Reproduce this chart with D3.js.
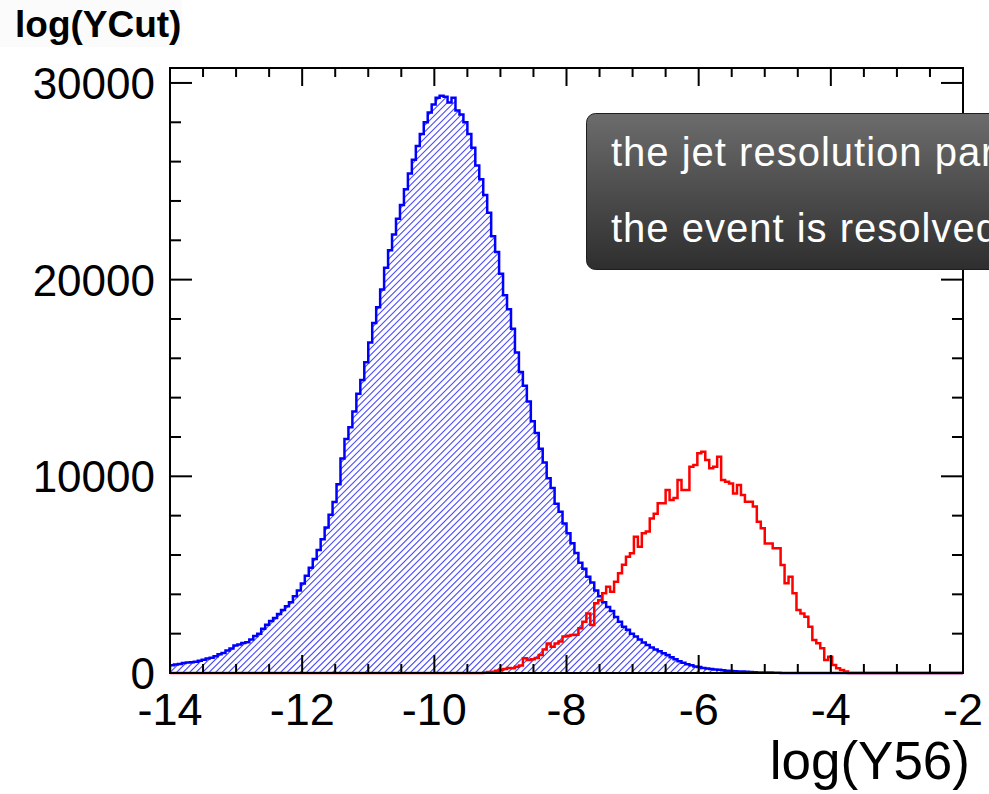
<!DOCTYPE html>
<html>
<head>
<meta charset="utf-8">
<script src="https://cdn.jsdelivr.net/npm/d3@7"></script>
<style>
  html, body { margin: 0; padding: 0; background: #fff; }
  svg { display: block; }
  text { font-family: "Liberation Sans", Arial, Helvetica, sans-serif; }
</style>
</head>
<body>
<svg id="chart" width="989" height="794"></svg>
<script>
// Histogram binning: 200 bins of width 0.06 over log(Y56) in [-14, -2]
const xMin = -14, xMax = -2, nBins = 200;

// Events with log(YCut) below log(Y56) — blue, hatched
const blueCounts = [
  400, 430, 460, 510, 540, 550, 570, 620, 680, 740,
  780, 850, 950, 1020, 1150, 1250, 1400, 1450, 1520, 1560,
  1700, 1880, 2000, 2250, 2450, 2650, 2800, 3000, 3200, 3400,
  3600, 3900, 4200, 4550, 4950, 5350, 5800, 6250, 6800, 7400,
  8050, 8700, 9600, 10900, 11900, 12500, 13300, 14200, 14900, 15800,
  16800, 17800, 18600, 19500, 20600, 21500, 22300, 23100, 23800, 24600,
  25400, 26100, 26800, 27400, 28000, 28500, 28900, 29250, 29350, 29300,
  29000, 29250, 28600, 28400, 28000, 27400, 26700, 25800, 25100, 24300,
  23400, 22200, 21400, 20300, 19200, 18500, 17500, 16300, 15300, 14600,
  13800, 12800, 12200, 11400, 10700, 9900, 9400, 8600, 8200, 7600,
  7100, 6600, 6100, 5600, 5300, 4900, 4600, 4200, 3900, 3600,
  3350, 3150, 2850, 2600, 2350, 2200, 2000, 1850, 1700, 1550,
  1420, 1300, 1200, 1100, 1000, 920, 800, 700, 600, 520,
  450, 400, 330, 300, 260, 230, 200, 180, 160, 140,
  120, 100, 90, 80, 70, 60, 50, 40, 30, 30,
  20, 20, 10, 10, 0, 0, 0, 0, 0, 0,
  0, 0, 0, 0, 0, 0, 0, 0, 0, 0,
  0, 0, 0, 0, 0, 0, 0, 0, 0, 0,
  0, 0, 0, 0, 0, 0, 0, 0, 0, 0,
  0, 0, 0, 0, 0, 0, 0, 0, 0, 0
];

// Events resolved at this step — red outline
const redCounts = [
  0, 0, 0, 0, 0, 0, 0, 0, 0, 0,
  0, 0, 0, 0, 0, 0, 0, 0, 0, 0,
  0, 0, 0, 0, 0, 0, 0, 0, 0, 0,
  0, 0, 0, 0, 0, 0, 0, 0, 0, 0,
  0, 0, 0, 0, 0, 0, 0, 0, 0, 0,
  0, 0, 0, 0, 0, 0, 0, 0, 0, 0,
  0, 0, 0, 0, 0, 0, 0, 0, 0, 0,
  0, 0, 0, 0, 0, 0, 0, 0, 0, 30,
  50, 60, 120, 160, 200, 250, 240, 320, 380, 750,
  660, 700, 760, 920, 1200, 1500, 1340, 1500, 1600, 1850,
  1900, 1930, 1950, 2270, 2600, 3030, 2440, 3540, 3700, 4050,
  4390, 4130, 4640, 5070, 5500, 5910, 6090, 6930, 6420, 7100,
  7200, 7860, 8100, 8630, 8630, 9300, 8800, 8900, 9810, 9300,
  9300, 10490, 10570, 11170, 11250, 10830, 10410, 10490, 11000, 9810,
  9730, 9640, 9130, 9560, 9050, 8710, 8710, 8460, 7690, 7360,
  6590, 6590, 6340, 6340, 5490, 4560, 4900, 4050, 3200, 3030,
  2860, 2350, 1680, 1510, 1260, 660, 830, 410, 240, 150,
  70, 0, 0, 0, 0, 0, 0, 0, 0, 0,
  0, 0, 0, 0, 0, 0, 0, 0, 0, 0,
  0, 0, 0, 0, 0, 0, 0, 0, 0, 0
];

const yMax = 30760;
const xMajorTicks = [-14, -12, -10, -8, -6, -4, -2];
const xTickLabels = ["-14", "-12", "-10", "-8", "-6", "-4", "-2"];
const yMajorTicks = [0, 10000, 20000, 30000];
const yTickLabels = ["0", "10000", "20000", "30000"];
const xTitle = "log(Y56)";
const yTitle = "log(YCut)";
const boxLines = ["the jet resolution parameter", "the event is resolved"];

const svg = d3.select("#chart");
const frame = { left: 170, right: 963, top: 68, bottom: 673 };

const x = d3.scaleLinear().domain([xMin, xMax]).range([frame.left, frame.right]);
const y = d3.scaleLinear().domain([0, yMax]).range([frame.bottom, frame.top]);
const binW = (xMax - xMin) / nBins;

const defs = svg.append("defs");

const grad = defs.append("linearGradient")
  .attr("id", "boxGrad").attr("x1", 0).attr("y1", 0).attr("x2", 0).attr("y2", 1);
grad.append("stop").attr("offset", "0%").attr("stop-color", "#6c6c6c");
grad.append("stop").attr("offset", "100%").attr("stop-color", "#2e2e2e");

defs.append("clipPath").attr("id", "frameClip")
  .append("rect")
  .attr("x", frame.left).attr("y", frame.top - 2)
  .attr("width", frame.right - frame.left).attr("height", frame.bottom - frame.top + 4);

// Step outline points for a histogram, closed to the baseline at both ends
function stepPoints(counts) {
  const pts = [[x(xMin), y(0)]];
  counts.forEach((c, i) => {
    const x0 = xMin + i * binW, x1 = x0 + binW;
    pts.push([x(x0), y(c)]);
    pts.push([x(x1), y(c)]);
  });
  pts.push([x(xMax), y(0)]);
  return pts;
}

const line = d3.line();
const g = svg.append("g").attr("clip-path", "url(#frameClip)");

const bluePts = stepPoints(blueCounts);

// Hatching: diagonal lines clipped to the blue histogram's area
defs.append("clipPath").attr("id", "blueArea")
  .append("path").attr("d", line(bluePts) + "Z");
const hatchStep = 6.5;
const hatch = g.append("g").attr("clip-path", "url(#blueArea)");
const span = frame.bottom - frame.top;
hatch.selectAll("line")
  .data(d3.range(frame.left - span, frame.right + 10, hatchStep))
  .join("line")
  .attr("x1", d => d).attr("y1", frame.bottom)
  .attr("x2", d => d + span).attr("y2", frame.top)
  .attr("stroke", "#4848ff")
  .attr("stroke-width", 1.1);

g.append("path")
  .attr("d", line(bluePts))
  .attr("fill", "none")
  .attr("stroke", "#0000ff")
  .attr("stroke-width", 2.5);

g.append("path")
  .attr("d", line(stepPoints(redCounts)))
  .attr("fill", "none")
  .attr("stroke", "#ff0000")
  .attr("stroke-width", 2.5);

// Frame and ticks on all four sides
const axes = svg.append("g").attr("stroke", "#000").attr("stroke-width", 2);
axes.append("rect")
  .attr("x", frame.left).attr("y", frame.top)
  .attr("width", frame.right - frame.left).attr("height", frame.bottom - frame.top)
  .attr("fill", "none");

const xMinor = d3.range(xMin, xMax + 0.001, 0.5);
xMinor.forEach(v => {
  const major = Math.abs(v / 2 - Math.round(v / 2)) < 1e-6;
  const len = major ? 18 : 9;
  axes.append("line").attr("x1", x(v)).attr("x2", x(v))
    .attr("y1", frame.bottom).attr("y2", frame.bottom - len);
  axes.append("line").attr("x1", x(v)).attr("x2", x(v))
    .attr("y1", frame.top).attr("y2", frame.top + len);
});

const yMinor = d3.range(0, yMax, 2000);
yMinor.forEach(v => {
  const major = v % 10000 === 0;
  const len = major ? 22 : 11;
  axes.append("line").attr("y1", y(v)).attr("y2", y(v))
    .attr("x1", frame.left).attr("x2", frame.left + len);
  axes.append("line").attr("y1", y(v)).attr("y2", y(v))
    .attr("x1", frame.right).attr("x2", frame.right - len);
});

// Tick labels
svg.append("g").selectAll("text")
  .data(xMajorTicks)
  .join("text")
  .attr("x", d => x(d))
  .attr("y", 725)
  .attr("text-anchor", "middle")
  .attr("font-size", 45)
  .attr("fill", "#000")
  .text((d, i) => xTickLabels[i]);

svg.append("g").selectAll("text")
  .data(yMajorTicks)
  .join("text")
  .attr("x", 155)
  .attr("y", d => y(d) + 16)
  .attr("text-anchor", "end")
  .attr("font-size", 44)
  .attr("fill", "#000")
  .text((d, i) => yTickLabels[i]);

// Axis titles
svg.append("rect").attr("x", 0).attr("y", 0).attr("width", 182).attr("height", 47)
  .attr("fill", "#fbfbfb");
svg.append("text")
  .attr("x", 15).attr("y", 37)
  .attr("font-size", 37).attr("font-weight", "bold")
  .attr("fill", "#000")
  .text(yTitle);

svg.append("text")
  .attr("x", 970).attr("y", 779)
  .attr("text-anchor", "end")
  .attr("font-size", 53)
  .attr("fill", "#000")
  .text(xTitle);

// Annotation box
const box = svg.append("g");
box.append("rect")
  .attr("x", 586.5).attr("y", 113.5)
  .attr("width", 460).attr("height", 156)
  .attr("rx", 9).attr("ry", 9)
  .attr("fill", "url(#boxGrad)")
  .attr("stroke", "#1e1e1e").attr("stroke-width", 1);
box.selectAll("text")
  .data(boxLines)
  .join("text")
  .attr("x", 611)
  .attr("y", (d, i) => 166 + i * 76)
  .attr("font-size", 40)
  .attr("letter-spacing", 1.0)
  .attr("fill", "#fff")
  .text(d => d);
</script>
</body>
</html>
